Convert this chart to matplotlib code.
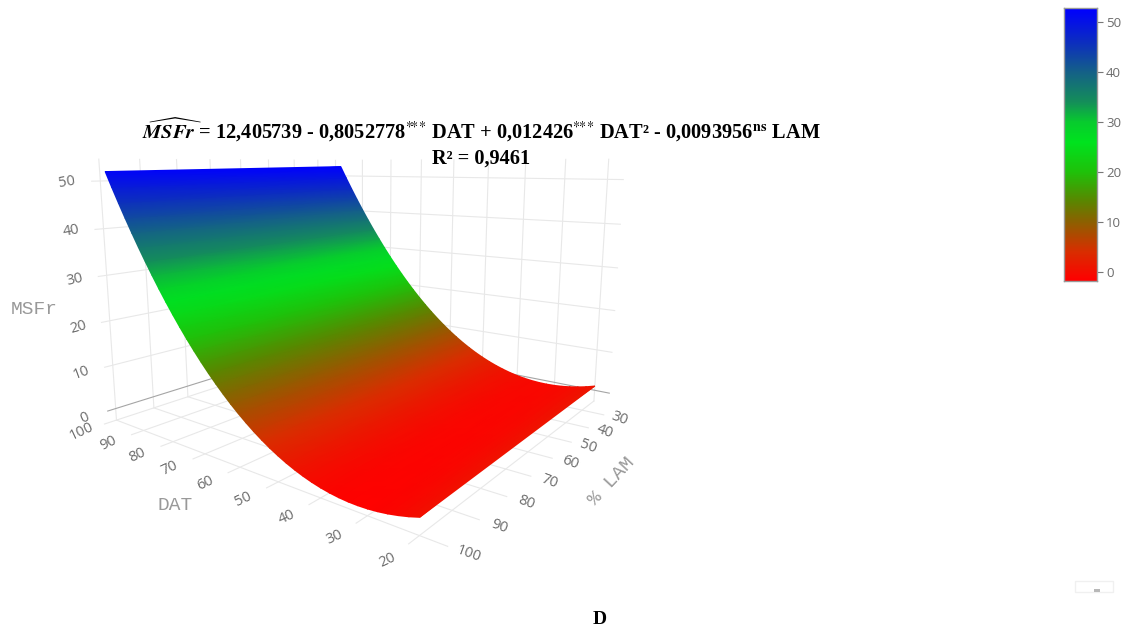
import numpy as np
import matplotlib
matplotlib.use('Agg')
import matplotlib.pyplot as plt
from matplotlib.colors import LinearSegmentedColormap, Normalize
from matplotlib.patches import Rectangle
from mpl_toolkits.mplot3d import proj3d

W, H = 1121, 630

dat = np.arange(20, 100, 2)
lam_edges = [100, 22]
msfr_lam100 = [0.33, -0.24, -0.70, -1.07, -1.34, -1.51, -1.58, -1.55, -1.42, -1.19,
               -0.86, -0.43, 0.10, 0.73, 1.45, 2.28, 3.20, 4.23, 5.35, 6.58,
               7.90, 9.32, 10.85, 12.47, 14.19, 16.01, 17.93, 19.95, 22.07, 24.29,
               26.61, 29.03, 31.55, 34.16, 36.88, 39.70, 42.61, 45.63, 48.74, 51.96]
msfr_lam22 = [1.06, 0.49, 0.03, -0.34, -0.61, -0.78, -0.85, -0.82, -0.69, -0.46,
              -0.13, 0.30, 0.83, 1.46, 2.18, 3.01, 3.93, 4.96, 6.08, 7.31,
              8.63, 10.05, 11.58, 13.20, 14.92, 16.74, 18.66, 20.68, 22.80, 25.02,
              27.34, 29.76, 32.28, 34.89, 37.61, 40.43, 43.34, 46.36, 49.47, 52.69]

dat_ticks = [20, 30, 40, 50, 60, 70, 80, 90, 100]
lam_ticks = [30, 40, 50, 60, 70, 80, 90, 100]
z_ticks = [0, 10, 20, 30, 40, 50]
z_rot = [24, 20, 16, 13, 11, 9]
zmin, zmax = -2.7, 54.5
lam_min = 22

plt.rcParams['mathtext.fontset'] = 'stix'

fig = plt.figure(figsize=(W / 100, H / 100), dpi=100, facecolor='white')
pos = [86.45 / W, 63.45 / H, 540.9 / W, 540.9 / H]
ax = fig.add_axes(pos, projection='3d', computed_zorder=False)
ax.view_init(elev=10.257, azim=127.42, roll=0.034)
ax.set_proj_type('persp', focal_length=0.2367)
ax.set_box_aspect((1, 0.96, 0.7129))
ax.set_axis_off()
ax.patch.set_alpha(0)

colors = [(0, (1, 0, 0)), (0.106, (0.85, 0.18, 0)), (0.216, (0.55, 0.38, 0)),
          (0.289, (0.36, 0.52, 0)), (0.4, (0.12, 0.76, 0.04)), (0.509, (0, 0.89, 0.12)),
          (0.582, (0.03, 0.8, 0.18)), (0.656, (0.08, 0.56, 0.35)), (0.766, (0.08, 0.38, 0.53)),
          (0.875, (0.05, 0.18, 0.75)), (1, (0, 0, 1))]
cmap = LinearSegmentedColormap.from_list('msfr', colors, N=512)
norm = Normalize(-1.8, 52.8)

grid_c = '#e8e8e8'
for d in dat_ticks:
    ax.plot([d, d], [lam_min, 103], [zmin, zmin], color=grid_c, lw=0.8)
    ax.plot([d, d], [lam_min, lam_min], [zmin, zmax], color=grid_c, lw=0.8)
for l in lam_ticks:
    ax.plot([15, 100], [l, l], [zmin, zmin], color=grid_c, lw=0.8)
    ax.plot([100, 100], [l, l], [zmin, zmax], color=grid_c, lw=0.8)
for z in z_ticks:
    zc = '#a5a5a5' if z == 0 else grid_c
    ax.plot([100, 100], [lam_min, 102], [z, z], color=zc, lw=0.8)
    ax.plot([100, 16.5], [lam_min, lam_min], [z, z], color=zc, lw=0.8)

ax.set_xlim(20, 100, view_margin=0)
ax.set_ylim(lam_min, 100, view_margin=0)
ax.set_zlim(zmin, zmax, view_margin=0)

# second axes on top, in the 2D view coordinates of the 3D axes: smooth shading and rotated text
ov = fig.add_axes(pos, frameon=False)
ov.set_axis_off()
M = ax.get_proj()


def project(x, y, z):
    px, py, _ = proj3d.proj_transform(np.asarray(x, float), np.asarray(y, float), np.asarray(z, float), M)
    return px, py


X, Y = np.meshgrid(dat, lam_edges, indexing='ij')
Z = np.array([msfr_lam100, msfr_lam22]).T
sx, sy = project(X.ravel(), Y.ravel(), Z.ravel())
ov.pcolormesh(sx.reshape(X.shape), sy.reshape(X.shape), Z, shading='gouraud', cmap=cmap, norm=norm)
ov.set_xlim(ax.viewLim.intervalx)
ov.set_ylim(ax.viewLim.intervaly)

tick_c = '#6b6b6b'
for d in dat_ticks:
    tx, ty = project(d, 108.5, zmin)
    ov.text(tx, ty, str(d), color=tick_c, fontsize=10.5, family='Open Sans', clip_on=False,
            rotation=25, ha='center', va='center', rotation_mode='anchor')
for l in lam_ticks:
    tx, ty = project(11.5, l, zmin)
    ov.text(tx, ty, str(l), color=tick_c, fontsize=10.5, family='Open Sans', clip_on=False,
            rotation=-20, ha='center', va='center', rotation_mode='anchor')
for z, r in zip(z_ticks, z_rot):
    tx, ty = project(100, 107.5, z)
    ov.text(tx, ty, str(z), color=tick_c, fontsize=10.5, family='Open Sans', clip_on=False,
            rotation=r, ha='center', va='center', rotation_mode='anchor')

fig.text(34 / W, 1 - 309 / H, 'MSFr', family='Liberation Mono', fontsize=14, color='#999999', ha='center', va='center')
fig.text(175 / W, 1 - 505 / H, 'DAT', family='Liberation Mono', fontsize=14, color='#999999', ha='center', va='center')
fig.text(612 / W, 1 - 481 / H, '% LAM', family='Liberation Mono', fontsize=14, color='#999999', ha='center', va='center', rotation=47)

title = (r'$\widehat{\mathbfit{MSFr}}$ = 12,405739 - 0,8052778$^{*\!\!*\!\!*}\!$ DAT + 0,012426$^{*\!\!*\!\!*}\!$ DAT² '
         r'- 0,0093956$^{\mathbf{ns}}$ LAM')
fig.text(481.5 / W, 1 - 130 / H, title, family='Liberation Serif', weight='bold', fontsize=14.7, ha='center', va='center')
fig.text(481 / W, 1 - 159 / H, 'R² = 0,9461', family='Liberation Serif', weight='bold', fontsize=14.6, ha='center', va='center')
fig.text(600 / W, 1 - 619 / H, 'D', family='Liberation Serif', weight='bold', fontsize=14, ha='center', va='center')

cax = fig.add_axes([1064 / W, 1 - 281 / H, 33 / W, 273 / H])
cax.imshow(np.linspace(52.8, -1.8, 400)[:, None], cmap=cmap, norm=norm, aspect='auto', extent=[0, 1, -1.8, 52.8])
cax.set_xticks([])
cax.yaxis.tick_right()
cax.set_yticks(z_ticks)
cax.tick_params(axis='y', length=4, width=0.8, color='#777777', labelcolor=tick_c, labelsize=9.5, pad=2.5)
for lb in cax.get_yticklabels():
    lb.set_family('Open Sans')
for sp in cax.spines.values():
    sp.set_color('#999999')
    sp.set_linewidth(1)

# faint remains of the toolbar button at the lower right
fig.add_artist(Rectangle((1075 / W, 1 - 592 / H), 38 / W, 11 / H, transform=fig.transFigure,
                         facecolor='none', edgecolor='#f0f0f0', lw=1))
fig.add_artist(Rectangle((1094 / W, 1 - 592 / H), 6 / W, 3 / H, transform=fig.transFigure,
                         facecolor='#b8b8b8', edgecolor='none'))

fig.savefig('out.png', dpi=100)
